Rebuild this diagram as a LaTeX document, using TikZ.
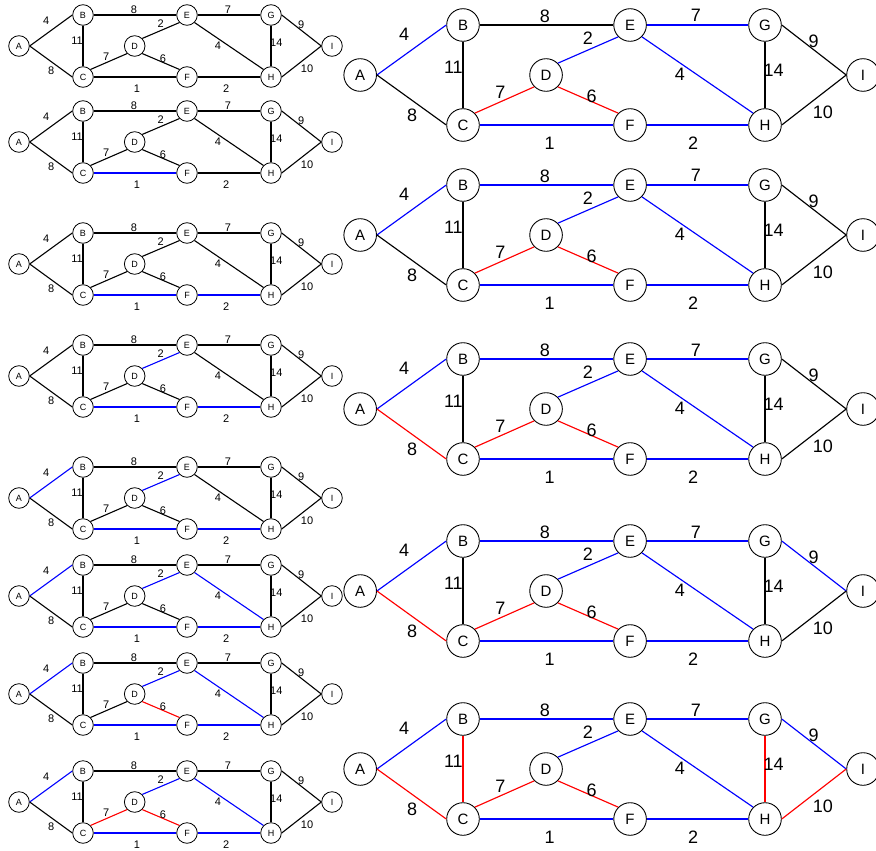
\documentclass[tikz,border=0pt]{standalone}
\usepackage{fontspec}
\setmainfont{Liberation Sans}
\tikzset{
  bl/.style={draw=blue},
  rd/.style={draw=red},
  bk/.style={draw=black},
  eAB/.style=bk, eAC/.style=bk, eBC/.style=bk, eBE/.style=bk, eCD/.style=bk,
  eDE/.style=bk, eDF/.style=bk, eCF/.style=bk, eEG/.style=bk, eEH/.style=bk,
  eFH/.style=bk, eGH/.style=bk, eGI/.style=bk, eHI/.style=bk,
  sm/.style={x=1pt, y=-1pt,
    vtx/.style={circle, draw=black, fill=white, inner sep=0pt, minimum size=20.6pt,
      line width=0.8pt, font=\fontsize{9}{10}\selectfont},
    lbl/.style={inner sep=0pt, font=\fontsize{11}{12}\selectfont},
    edg/.style={line width=1.1pt}},
  lg/.style={x=1.6064pt, y=-1.6129pt,
    vtx/.style={circle, draw=black, fill=white, inner sep=0pt, minimum size=32.6pt,
      line width=0.9pt, font=\fontsize{15}{16}\selectfont},
    lbl/.style={inner sep=0pt, font=\fontsize{18}{19}\selectfont},
    edg/.style={line width=1.15pt}},
}
\newcommand\drawgraph[1]{%
  \node[vtx] (#1A) at (-64,31) {A};
  \node[vtx] (#1B) at (0,0) {B};
  \node[vtx] (#1C) at (0,62) {C};
  \node[vtx] (#1D) at (51.7,31) {D};
  \node[vtx] (#1E) at (104,0) {E};
  \node[vtx] (#1F) at (104,62) {F};
  \node[vtx] (#1G) at (188,0) {G};
  \node[vtx] (#1H) at (188,62) {H};
  \node[vtx] (#1I) at (249,31) {I};
  \draw[edg,eAB] (#1A.east) -- (#1B.west);
  \draw[edg,eAC] (#1A.east) -- (#1C.west);
  \draw[edg,eBC] (#1B.south) -- (#1C.north);
  \draw[edg,eBE] (#1B.east) -- (#1E.west);
  \draw[edg,eCD] (#1C.north east) -- (#1D.south west);
  \draw[edg,eDE] (#1D.north east) -- (#1E.south west);
  \draw[edg,eDF] (#1D.south east) -- (#1F.north west);
  \draw[edg,eCF] (#1C.east) -- (#1F.west);
  \draw[edg,eEG] (#1E.east) -- (#1G.west);
  \draw[edg,eEH] (#1E.south east) -- (#1H.north west);
  \draw[edg,eFH] (#1F.east) -- (#1H.west);
  \draw[edg,eGH] (#1G.south) -- (#1H.north);
  \draw[edg,eGI] (#1G.east) -- (#1I.west);
  \draw[edg,eHI] (#1H.east) -- (#1I.west);
  \node[lbl] (#1lAB) at (-36.7,5.8) {4};
  \node[lbl] (#1lAC) at (-31.7,56) {8};
  \node[lbl] (#1lBC) at (-6,26) {11};
  \node[lbl] (#1lBE) at (51,-5.7) {8};
  \node[lbl] (#1lDE) at (77.7,8.4) {2};
  \node[lbl] (#1lCD) at (23.3,41.6) {7};
  \node[lbl] (#1lDF) at (80,44) {6};
  \node[lbl] (#1lCF) at (54,73.3) {1};
  \node[lbl] (#1lEG) at (145,-5.7) {7};
  \node[lbl] (#1lEH) at (135,30.5) {4};
  \node[lbl] (#1lFH) at (143.3,73.3) {2};
  \node[lbl] (#1lGH) at (193.3,28.2) {14};
  \node[lbl] (#1lGI) at (218.3,10.2) {9};
  \node[lbl] (#1lHI) at (224,54.2) {10};
}
\begin{document}
\begin{tikzpicture}
\fill[white] (0pt,0pt) rectangle (876pt,-851pt);
\useasboundingbox (0pt,0pt) rectangle (876pt,-851pt);
% small graphs
\begin{scope}[shift={(83pt,-15pt)}, sm]
  \drawgraph{s1}
\end{scope}
\begin{scope}[shift={(83pt,-111pt)}, sm, eCF/.style=bl]
  \drawgraph{s2}
\end{scope}
\begin{scope}[shift={(83pt,-233pt)}, sm, eCF/.style=bl, eFH/.style=bl]
  \drawgraph{s3}
\end{scope}
\begin{scope}[shift={(83pt,-345pt)}, sm, eCF/.style=bl, eFH/.style=bl, eDE/.style=bl]
  \drawgraph{s4}
\end{scope}
\begin{scope}[shift={(83pt,-467pt)}, sm, eCF/.style=bl, eFH/.style=bl, eDE/.style=bl, eAB/.style=bl]
  \drawgraph{s5}
\end{scope}
\begin{scope}[shift={(83pt,-565pt)}, sm, eCF/.style=bl, eFH/.style=bl, eDE/.style=bl, eAB/.style=bl, eEH/.style=bl]
  \drawgraph{s6}
\end{scope}
\begin{scope}[shift={(83pt,-663pt)}, sm, eCF/.style=bl, eFH/.style=bl, eDE/.style=bl, eAB/.style=bl, eEH/.style=bl, eDF/.style=rd]
  \drawgraph{s7}
\end{scope}
\begin{scope}[shift={(83pt,-771pt)}, sm, eCF/.style=bl, eFH/.style=bl, eDE/.style=bl, eAB/.style=bl, eEH/.style=bl, eDF/.style=rd, eCD/.style=rd]
  \drawgraph{s8}
\end{scope}
% large graphs
\begin{scope}[shift={(463pt,-25pt)}, lg, eAB/.style=bl, eEG/.style=bl, eDE/.style=bl, eEH/.style=bl, eCF/.style=bl, eFH/.style=bl, eCD/.style=rd, eDF/.style=rd]
  \drawgraph{l1}
\end{scope}
\begin{scope}[shift={(463pt,-185pt)}, lg, eAB/.style=bl, eEG/.style=bl, eDE/.style=bl, eEH/.style=bl, eCF/.style=bl, eFH/.style=bl, eCD/.style=rd, eDF/.style=rd, eBE/.style=bl]
  \drawgraph{l2}
\end{scope}
\begin{scope}[shift={(463pt,-359pt)}, lg, eAB/.style=bl, eEG/.style=bl, eDE/.style=bl, eEH/.style=bl, eCF/.style=bl, eFH/.style=bl, eCD/.style=rd, eDF/.style=rd, eBE/.style=bl, eAC/.style=rd]
  \drawgraph{l3}
\end{scope}
\begin{scope}[shift={(463pt,-541pt)}, lg, eAB/.style=bl, eEG/.style=bl, eDE/.style=bl, eEH/.style=bl, eCF/.style=bl, eFH/.style=bl, eCD/.style=rd, eDF/.style=rd, eBE/.style=bl, eAC/.style=rd, eGI/.style=bl]
  \drawgraph{l4}
\end{scope}
\begin{scope}[shift={(463pt,-719pt)}, lg, eAB/.style=bl, eEG/.style=bl, eDE/.style=bl, eEH/.style=bl, eCF/.style=bl, eFH/.style=bl, eCD/.style=rd, eDF/.style=rd, eBE/.style=bl, eAC/.style=rd, eGI/.style=bl, eBC/.style=rd, eGH/.style=rd, eHI/.style=rd]
  \drawgraph{l5}
\end{scope}
\end{tikzpicture}
\end{document}
